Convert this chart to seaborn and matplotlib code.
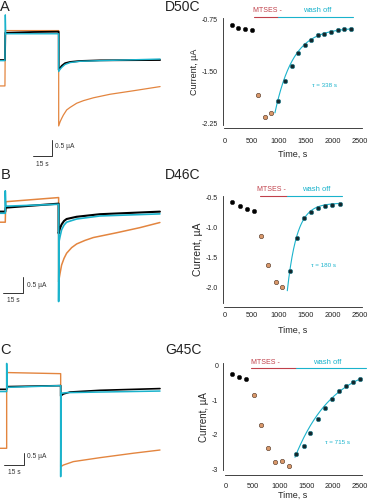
import numpy as np
import pandas as pd
import matplotlib
matplotlib.use("Agg")
import matplotlib.pyplot as plt
import seaborn as sns

sns.set_style("white")
plt.rcParams['font.family'] = ['Liberation Sans', 'DejaVu Sans']

ORANGE = "#e3853f"
TEAL = "#1ab3cc"
RED = "#c0404a"
DOT_OR = "#d9986a"
DOT_W = "#12262c"

# ---------------- left panels: current traces (t in s, I in uA) ----------------
A_or_t = [0, 3.9, 4.2, 46.3, 46.3, 47.4, 48.7, 50.0, 52.6, 55.3, 60.5, 65.8, 73.7, 86.8, 105.3, 126.3]
A_or_i = [-0.81, -0.81, 0.92, 0.92, -2.06, -1.93, -1.82, -1.72, -1.56, -1.48, -1.35, -1.27, -1.18, -1.07, -0.96, -0.83]
A_bk_t = [0, 3.9, 4.2, 26.3, 46.3, 46.3, 47.4, 48.7, 51.3, 55.3, 63.2, 79.0, 126.3]
A_bk_i = [0, 0, 0.85, 0.875, 0.885, -0.31, -0.25, -0.18, -0.10, -0.06, -0.03, -0.01, 0.0]
A_tl_t = [0, 3.9, 4.2, 4.5, 46.3, 46.3, 47.4, 48.7, 51.3, 55.3, 63.2, 79.0, 126.3]
A_tl_i = [-0.02, -0.02, 1.41, 0.82, 0.82, -0.36, -0.29, -0.23, -0.14, -0.08, -0.04, -0.02, 0.03]

B_or_t = [0, 4.1, 4.4, 45.5, 45.5, 46.6, 47.8, 49.7, 51.7, 55.6, 59.5, 65.9, 72.4, 90.5, 108.6, 124.1]
B_or_i = [-0.33, -0.33, 0.31, 0.44, -2.19, -1.93, -1.67, -1.46, -1.30, -1.125, -1.01, -0.90, -0.81, -0.66, -0.50, -0.34]
B_bk_t = [0, 4.1, 4.4, 45.5, 45.5, 46.6, 47.8, 49.7, 51.7, 59.5, 77.6, 124.1]
B_bk_i = [0, 0, 0.125, 0.25, -0.68, -0.52, -0.40, -0.29, -0.23, -0.16, -0.08, 0.0]
B_tl_t = [0, 4.1, 4.1, 4.4, 45.5, 45.5, 45.8, 46.6, 47.8, 49.7, 51.7, 59.5, 77.6, 124.1]
B_tl_i = [-0.05, -0.05, 0.65, 0.17, 0.23, -2.81, -0.94, -0.78, -0.57, -0.42, -0.33, -0.23, -0.135, -0.07]

C_or_t = [0, 5, 5, 45.5, 45.5, 47.5, 55, 75, 100, 120]
C_or_i = [-2.39, -2.39, 0.68, 0.635, -3.14, -3.07, -2.93, -2.77, -2.59, -2.46]
C_bk_t = [0, 5, 5.25, 45.5, 45.5, 47.5, 52.5, 75, 120]
C_bk_i = [0, 0, 0.11, 0.15, -0.27, -0.19, -0.11, -0.04, 0.03]
C_tl_t = [0, 5, 5, 5.25, 45.5, 45.5, 45.75, 50, 75, 120]
C_tl_i = [-0.09, -0.09, 1.05, 0.08, 0.15, -3.54, -0.16, -0.135, -0.11, -0.07]

# ---------------- right panels: current vs time ----------------
A_pre_t = [123, 247, 377, 500]
A_pre_i = [-0.832, -0.87, -0.894, -0.909]
A_mts_t = [605, 747, 858]
A_mts_i = [-1.836, -2.154, -2.106]
A_wash_t = [981, 1105, 1235, 1358, 1475, 1593, 1716, 1840, 1963, 2086, 2210, 2327]
A_wash_i = [-1.923, -1.644, -1.418, -1.24, -1.125, -1.048, -0.98, -0.957, -0.933, -0.909, -0.894, -0.889]

B_pre_t = [136, 278, 407, 537]
B_pre_i = [-0.577, -0.643, -0.704, -0.726]
B_mts_t = [673, 796, 938, 1062]
B_mts_i = [-1.151, -1.62, -1.906, -1.984]
B_wash_t = [1204, 1327, 1463, 1593, 1728, 1858, 1988, 2123]
B_wash_i = [-1.73, -1.184, -0.847, -0.743, -0.688, -0.654, -0.632, -0.61]

C_pre_t = [112, 254, 378]
C_pre_i = [-0.232, -0.329, -0.387]
C_mts_t = [521, 652, 788, 918, 1048, 1172]
C_mts_i = [-0.833, -1.713, -2.39, -2.788, -2.768, -2.904]
C_wash_t = [1309, 1458, 1576, 1719, 1849, 1979, 2109, 2246, 2376, 2506]
C_wash_i = [-2.556, -2.333, -1.955, -1.549, -1.21, -0.949, -0.736, -0.571, -0.474, -0.368]

# exponential fit parameters (tau from the chart)
fits = {
    'A': dict(t0=925, t1=2330, y0=-2.10, yinf=-0.87, tau=338),
    'B': dict(t0=1154, t1=2123, y0=-2.05, yinf=-0.60, tau=180),
    'C': dict(t0=1290, t1=2506, y0=-2.65, yinf=0.135, tau=715),
}
names = {'A': 'D50C', 'B': 'D46C', 'C': 'G45C'}
tau_labels = {'A': 'τ = 338 s', 'B': 'τ = 180 s', 'C': 'τ = 715 s'}

W, H = 371, 500
fig = plt.figure(figsize=(W / 100, H / 100), dpi=100)


def rect(x0, y0, x1, y1):
    return [x0 / W, 1 - y1 / H, (x1 - x0) / W, (y1 - y0) / H]


def trace_panel(box, xlim, ylim, traces, sb):
    ax = fig.add_axes(box)
    for t, i, c, lw in traces:
        sns.lineplot(x=t, y=i, sort=False, estimator=None, color=c, lw=lw, ax=ax)
    ax.set_xlim(*xlim)
    ax.set_ylim(*ylim)
    ax.axis('off')
    (tx0, tx1, iy0, iy1, lab1, lab2) = sb
    ax.plot([tx0, tx1, tx1], [iy1, iy1, iy0], color='#333333', lw=0.7, clip_on=False)
    ax.text(lab1[0], lab1[1], '0.5 µA', fontsize=4.8, va='center', ha='left', color='#333333')
    ax.text(lab2[0], lab2[1], '15 s', fontsize=4.8, va='center', ha='center', color='#333333')
    return ax


trace_panel(rect(0, 0, 180, 165), (0, 142), (-3.28, 1.875),
            [(A_or_t, A_or_i, ORANGE, 0.9), (A_bk_t, A_bk_i, 'black', 1.3), (A_tl_t, A_tl_i, TEAL, 1.0)],
            (26.3, 41.3, -2.5, -3.0, (43.4, -2.71), (33.7, -3.25)))
trace_panel(rect(0, 165, 180, 330), (0, 139.7), (-3.70, 1.458),
            [(B_or_t, B_or_i, ORANGE, 1.1), (B_bk_t, B_bk_i, 'black', 1.5), (B_tl_t, B_tl_i, TEAL, 1.2)],
            (2.6, 17.6, -2.03, -2.53, (20.7, -2.31), (10.3, -2.78)))
trace_panel(rect(0, 330, 180, 500), (0, 135), (-4.486, 2.405),
            [(C_or_t, C_or_i, ORANGE, 1.0), (C_bk_t, C_bk_i, 'black', 1.2), (C_tl_t, C_tl_i, TEAL, 1.1)],
            (3, 18, -2.57, -3.07, (20, -2.73), (10.5, -3.36)))


def scatter_panel(key, box, ylim, yticks, ylabels, yminor, pre, mts, wash, bar, labels_y, lab_x, tau_xy,
                  bottom_out, ylab_size, xpad, xlabpad):
    ax = fig.add_axes(box)
    ax.set_facecolor('none')
    sns.scatterplot(x=pre[0], y=pre[1], color='black', edgecolor='#222222', s=10, lw=0.4, ax=ax, zorder=3)
    sns.scatterplot(x=mts[0], y=mts[1], color=DOT_OR, edgecolor='#4a3020', s=10, lw=0.4, ax=ax, zorder=3)
    f = fits[key]
    tt = np.linspace(f['t0'], f['t1'], 200)
    yy = f['yinf'] + (f['y0'] - f['yinf']) * np.exp(-(tt - f['t0']) / f['tau'])
    sns.lineplot(x=tt, y=yy, color=TEAL, lw=0.8, ax=ax, zorder=2)
    sns.scatterplot(x=wash[0], y=wash[1], color=DOT_W, edgecolor='#2a7f8c', s=10, lw=0.5, ax=ax, zorder=4)
    ax.set_xlim(-20, 2530)
    ax.set_ylim(*ylim)
    r0, r1, t1, yb = bar
    ax.plot([r0, r1], [yb, yb], color=RED, lw=0.8, clip_on=False)
    ax.plot([r1, t1], [yb, yb], color=TEAL, lw=0.8, clip_on=False)
    ax.text(lab_x[0], labels_y, 'MTSES -', color=RED, fontsize=5, ha='center', va='center')
    ax.text(lab_x[1], labels_y, 'wash off', color=TEAL, fontsize=5.5, ha='center', va='center')
    ax.text(tau_xy[0], tau_xy[1], tau_labels[key], color=TEAL, fontsize=4.5, ha='center', va='center')
    for s in ['top', 'right']:
        ax.spines[s].set_visible(False)
    for s in ['left', 'bottom']:
        ax.spines[s].set_linewidth(0.6)
        ax.spines[s].set_color('#222222')
    ax.spines['left'].set_position(('outward', 1))
    ax.spines['bottom'].set_position(('outward', bottom_out))
    ax.set_yticks(yticks)
    ax.set_yticklabels(ylabels)
    ax.set_yticks(yminor, minor=True)
    ax.set_xticks([0, 500, 1000, 1500, 2000, 2500])
    ax.set_xticklabels(['0', '500', '1000', '1500', '2000', '2500'])
    ax.tick_params(axis='both', which='both', direction='out', length=2, width=0.5, pad=1.5,
                   labelsize=5, colors='#222222')
    ax.tick_params(axis='x', pad=xpad, labelsize=5.3)
    ax.set_xlabel('Time, s', fontsize=6.5, labelpad=xlabpad)
    ax.set_ylabel('Current, µA', fontsize=ylab_size, labelpad=2)
    return ax


scatter_panel('A', rect(223.9, 18, 361.6, 125), (-2.275, -0.731),
              [-0.75, -1.5, -2.25], ['-0.75', '-1.50', '-2.25'], [-1.125, -1.875],
              (A_pre_t, A_pre_i), (A_mts_t, A_mts_i), (A_wash_t, A_wash_i),
              (537, 988, 2377, -0.7125), -0.616, (778, 1710), (1850, -1.70), 2, 6.5, 5.5, 3)
scatter_panel('B', rect(223.9, 196, 361.6, 303.3), (-2.258, -0.483),
              [-0.5, -1.0, -1.5, -2.0], ['-0.5', '-1.0', '-1.5', '-2.0'], [-0.75, -1.25, -1.75, -2.25],
              (B_pre_t, B_pre_i), (B_mts_t, B_mts_i), (B_wash_t, B_wash_i),
              (648, 1154, 2160, -0.483), -0.368, (864, 1698), (1821, -1.625), 3.0, 7.5, 1.2, 5)
scatter_panel('C', rect(224.6, 363.3, 361.6, 470), (-3.02, 0.078),
              [0, -1, -2, -3], ['0', '-1', '-2', '-3'], [-0.5, -1.5, -2.5],
              (C_pre_t, C_pre_i), (C_mts_t, C_mts_i), (C_wash_t, C_wash_i),
              (478, 1303, 2605, -0.05), 0.096, (741, 1894), (2078, -2.23), 3.6, 7, 3.5, 1)

# panel letters and mutant names
for lab, y in [('A', 7), ('B', 175), ('C', 350)]:
    fig.text(0.3 / W, 1 - y / H, lab, fontsize=10.5, ha='left', va='center', color='#222222')
for key, y in [('A', 7), ('B', 175), ('C', 350)]:
    fig.text(165 / W, 1 - y / H, names[key], fontsize=10, ha='left', va='center', color='#222222')

fig.savefig('out.png', dpi=100)
